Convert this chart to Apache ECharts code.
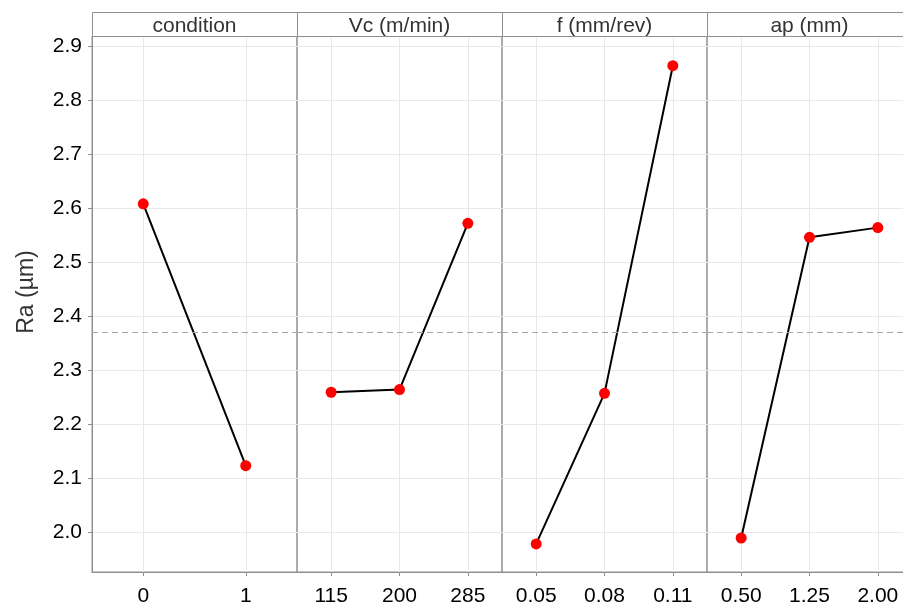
<!DOCTYPE html>
<html>
<head>
<meta charset="utf-8">
<title>Main effects on Ra</title>
<script src="https://cdn.jsdelivr.net/npm/echarts@6/dist/echarts.min.js"></script>
<style>
  html, body { margin: 0; padding: 0; background: #fff; }
  #chart { width: 903px; height: 603px; }
</style>
</head>
<body>
<div id="chart"></div>
<script>
// Mean surface roughness (Ra, µm) at each level of every factor
const conditionLevels = ['0', '1'];
const conditionRa = [2.608, 2.123];

const vcLevels = ['115', '200', '285'];
const vcRa = [2.259, 2.264, 2.572];

const feedLevels = ['0.05', '0.08', '0.11'];
const feedRa = [1.978, 2.257, 2.864];

const apLevels = ['0.50', '1.25', '2.00'];
const apRa = [1.989, 2.546, 2.564];

const panelTitles = ['condition', 'Vc (m/min)', 'f (mm/rev)', 'ap (mm)'];
const yTickValues = [2.0, 2.1, 2.2, 2.3, 2.4, 2.5, 2.6, 2.7, 2.8, 2.9];
const grandMean = 2.366;   // overall mean of Ra, drawn as the dashed reference
const yTitle = 'Ra (\u00b5m)';

const panels = [
  { levels: conditionLevels, values: conditionRa },
  { levels: vcLevels, values: vcRa },
  { levels: feedLevels, values: feedRa },
  { levels: apLevels, values: apRa }
];

const FONT = '"Liberation Sans", Arial, sans-serif';
const BORDER = '#8f8f8f';
const GRID_LINE = '#e8e8e8';
const panelLeft0 = 92, panelW = 205, panelTop = 36, panelH = 536, stripTop = 12;

const grids = [], xAxes = [], yAxes = [], series = [], graphics = [];

panels.forEach((p, i) => {
  const left = panelLeft0 + i * panelW;
  // fixed facet geometry; the last facet runs past the right edge of the canvas
  grids.push({
    left: left, top: panelTop, width: panelW, height: panelH,
    outerBoundsMode: 'none', containLabel: false,
    show: true, borderColor: BORDER, borderWidth: 1, backgroundColor: 'transparent'
  });
  xAxes.push({
    type: 'category', gridIndex: i, data: p.levels, boundaryGap: true,
    axisLine: { show: true, lineStyle: { color: BORDER, width: 1 } },
    axisTick: { show: true, alignWithLabel: true, length: 4, lineStyle: { color: BORDER } },
    axisLabel: { color: '#000', fontSize: 21, fontFamily: FONT, margin: 14, interval: 0 },
    splitLine: { show: true, alignWithLabel: true, interval: 0, lineStyle: { color: GRID_LINE, width: 1 } }
  });
  yAxes.push({
    type: 'value', gridIndex: i, min: 1.926, max: 2.919,
    axisLine: { show: i === 0, lineStyle: { color: BORDER, width: 1 } },
    axisTick: { show: i === 0, length: 4, customValues: yTickValues, lineStyle: { color: BORDER } },
    axisLabel: {
      show: i === 0, customValues: yTickValues, color: '#000', fontSize: 21, fontFamily: FONT, margin: 10,
      formatter: v => Number(v).toFixed(1)
    },
    splitLine: { show: true, lineStyle: { color: GRID_LINE, width: 1 } }
  });
  series.push({
    type: 'line', xAxisIndex: i, yAxisIndex: i, data: p.values,
    symbol: 'circle', symbolSize: 11, z: 3,
    lineStyle: { color: '#000', width: 2 },
    itemStyle: { color: '#f00', borderWidth: 0 },
    animation: false,
    markLine: {
      silent: true, symbol: 'none', animation: false,
      label: { show: false },
      lineStyle: { color: '#a6a6a6', type: [6, 4], width: 1 },
      data: [{ yAxis: grandMean }]
    }
  });
  // facet strip above the panel
  graphics.push({
    type: 'rect', silent: true, z: 10,
    shape: { x: left + 0.5, y: stripTop + 0.5, width: panelW, height: panelTop - stripTop },
    style: { fill: '#fff', stroke: BORDER, lineWidth: 1 }
  });
  graphics.push({
    type: 'text', silent: true, z: 11,
    x: left + panelW / 2, y: 26,
    style: {
      text: panelTitles[i], fill: '#333', font: '21px ' + FONT,
      textAlign: 'center', textVerticalAlign: 'middle'
    }
  });
});

graphics.push({
  type: 'text', silent: true, z: 11,
  x: 27, y: 292, rotation: Math.PI / 2,
  style: {
    text: yTitle, fill: '#333', font: '23px ' + FONT,
    textAlign: 'center', textVerticalAlign: 'middle'
  }
});

const chart = echarts.init(document.getElementById('chart'), null, { renderer: 'canvas' });
chart.setOption({
  animation: false,
  backgroundColor: '#fff',
  grid: grids,
  xAxis: xAxes,
  yAxis: yAxes,
  series: series,
  graphic: graphics
});
</script>
</body>
</html>
